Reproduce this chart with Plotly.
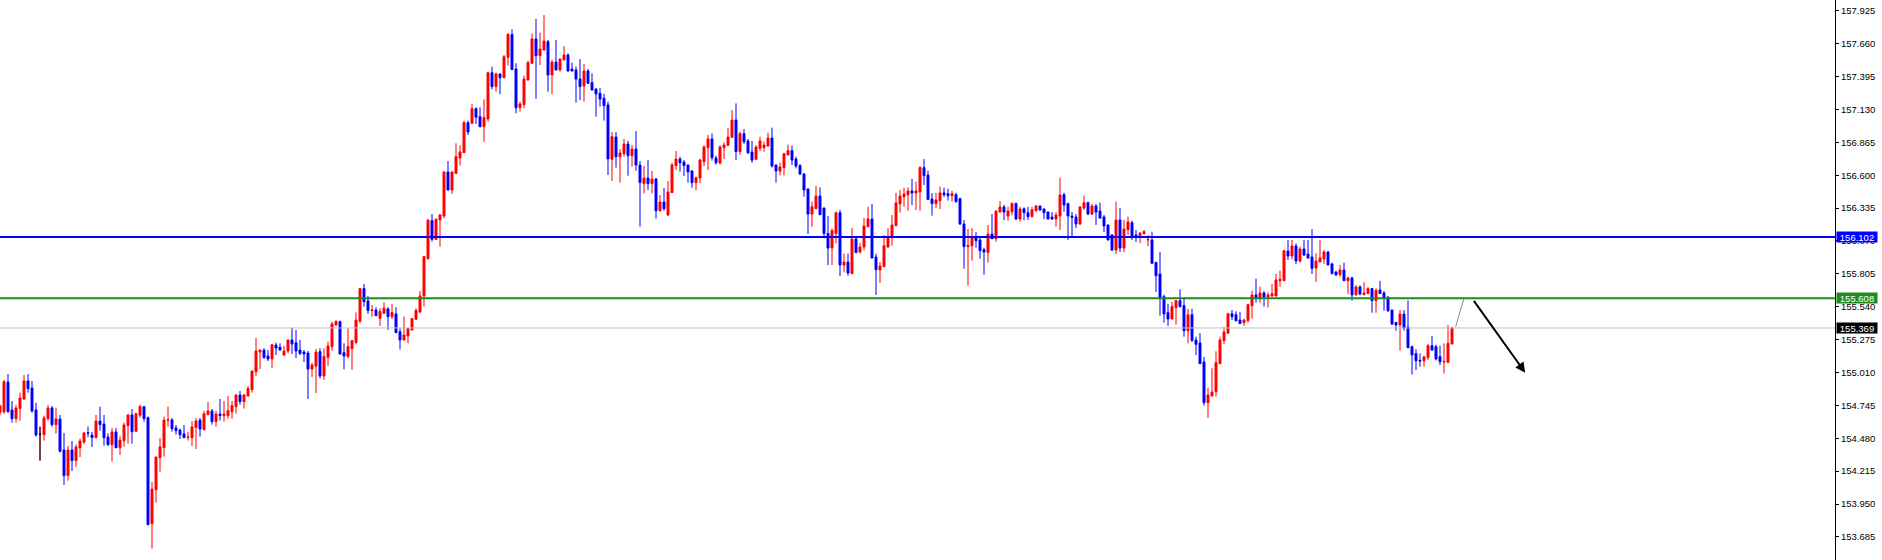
import plotly.graph_objects as go

# ---- candle data (one bar per step) ----
open_ = [
    154.687, 154.694, 154.934, 154.708, 154.638, 154.721, 154.797, 154.942, 154.885, 154.708,
    154.512, 154.509, 154.638, 154.724, 154.590, 154.635, 154.386, 154.179, 154.386, 154.300,
    154.402, 154.450, 154.525, 154.506, 154.485, 154.619, 154.595, 154.490, 154.429, 154.531,
    154.404, 154.461, 154.582, 154.668, 154.536, 154.665, 154.735, 154.646, 153.792, 154.066,
    154.324, 154.404, 154.625, 154.627, 154.563, 154.547, 154.515, 154.486, 154.485, 154.566,
    154.627, 154.549, 154.670, 154.700, 154.614, 154.676, 154.662, 154.662, 154.694, 154.735,
    154.829, 154.775, 154.821, 154.872, 155.017, 155.175, 155.191, 155.143, 155.119, 155.232,
    155.215, 155.151, 155.183, 155.272, 155.250, 155.191, 155.175, 155.167, 155.038, 155.062,
    155.178, 154.982, 155.133, 155.219, 155.393, 155.420, 155.170, 155.138, 155.202, 155.253,
    155.425, 155.686, 155.587, 155.510, 155.514, 155.447, 155.487, 155.522, 155.460, 155.482,
    155.339, 155.272, 155.305, 155.353, 155.439, 155.498, 155.627, 155.930, 156.234, 156.083,
    156.239, 156.271, 156.626, 156.481, 156.615, 156.739, 156.782, 157.024, 157.018, 157.136,
    157.072, 156.991, 157.053, 157.426, 157.314, 157.416, 157.386, 157.550, 157.733, 157.456,
    157.144, 157.169, 157.367, 157.502, 157.698, 157.563, 157.609, 157.676, 157.408, 157.512,
    157.448, 157.529, 157.569, 157.456, 157.448, 157.375, 157.319, 157.440, 157.346, 157.295,
    157.260, 157.220, 157.166, 156.728, 156.908, 156.749, 156.773, 156.851, 156.757, 156.811,
    156.682, 156.532, 156.577, 156.532, 156.569, 156.314, 156.384, 156.279, 156.459, 156.677,
    156.730, 156.706, 156.682, 156.634, 156.540, 156.577, 156.709, 156.822, 156.892, 156.738,
    156.698, 156.822, 156.841, 156.905, 157.045, 156.790, 156.935, 156.876, 156.787, 156.728,
    156.816, 156.822, 156.835, 156.900, 156.682, 156.634, 156.661, 156.763, 156.798, 156.730,
    156.677, 156.610, 156.489, 156.287, 156.330, 156.432, 156.336, 156.131, 156.013, 156.131,
    156.298, 155.876, 155.900, 155.806, 156.086, 155.981, 156.021, 156.185, 156.247, 155.941,
    155.836, 155.863, 156.021, 156.105, 156.193, 156.370, 156.427, 156.443, 156.473, 156.457,
    156.465, 156.661, 156.601, 156.408, 156.371, 156.395, 156.457, 156.451, 156.435, 156.443,
    156.411, 156.207, 156.024, 156.032, 156.105, 156.078, 156.000, 155.976, 156.126, 156.088,
    156.303, 156.344, 156.271, 156.306, 156.373, 156.247, 156.330, 156.298, 156.266, 156.314,
    156.352, 156.328, 156.303, 156.263, 156.247, 156.271, 156.443, 156.371, 156.271, 156.263,
    156.207, 156.336, 156.379, 156.287, 156.352, 156.311, 156.263, 156.199, 156.118, 155.997,
    156.239, 156.013, 156.161, 156.217, 156.118, 156.110, 156.131, 156.078, 156.078, 155.898,
    155.804, 155.621, 155.492, 155.441, 155.533, 155.589, 155.549, 155.347, 155.476, 155.272,
    155.248, 155.095, 154.767, 154.821, 154.856, 155.081, 155.267, 155.328, 155.484, 155.476,
    155.433, 155.412, 155.428, 155.549, 155.635, 155.613, 155.651, 155.619, 155.627, 155.627,
    155.750, 155.750, 155.989, 155.949, 156.030, 155.909, 156.005, 155.965, 155.941, 155.852,
    155.901, 155.925, 155.981, 155.885, 155.820, 155.799, 155.836, 155.750, 155.772, 155.635,
    155.699, 155.637, 155.646, 155.686, 155.589, 155.675, 155.651, 155.616, 155.514, 155.414,
    155.393, 155.481, 155.377, 155.218, 155.162, 155.108, 155.105, 155.130, 155.226, 155.218,
    155.138, 155.095, 155.092, 155.240,
]

high = [
    154.749, 154.950, 154.998, 154.780, 154.749, 154.848, 154.990, 154.998, 154.942, 154.767,
    154.574, 154.662, 154.749, 154.740, 154.727, 154.668, 154.523, 154.418, 154.458, 154.429,
    154.477, 154.531, 154.574, 154.531, 154.668, 154.735, 154.668, 154.520, 154.563, 154.563,
    154.498, 154.606, 154.672, 154.716, 154.686, 154.749, 154.738, 154.654, 154.128, 154.332,
    154.482, 154.654, 154.735, 154.643, 154.587, 154.557, 154.587, 154.531, 154.619, 154.643,
    154.643, 154.700, 154.772, 154.716, 154.700, 154.797, 154.780, 154.821, 154.780, 154.832,
    154.861, 154.837, 154.901, 155.025, 155.288, 155.194, 155.205, 155.191, 155.240, 155.250,
    155.245, 155.224, 155.275, 155.369, 155.353, 155.272, 155.191, 155.183, 155.087, 155.199,
    155.205, 155.205, 155.259, 155.420, 155.433, 155.428, 155.245, 155.366, 155.272, 155.495,
    155.688, 155.724, 155.627, 155.554, 155.536, 155.528, 155.576, 155.536, 155.563, 155.536,
    155.366, 155.460, 155.370, 155.450, 155.528, 155.667, 155.949, 156.242, 156.288, 156.253,
    156.288, 156.629, 156.715, 156.629, 156.857, 156.841, 157.040, 157.040, 157.174, 157.147,
    157.147, 157.212, 157.435, 157.475, 157.426, 157.419, 157.569, 157.743, 157.778, 157.502,
    157.193, 157.402, 157.523, 157.743, 157.859, 157.749, 157.891, 157.690, 157.529, 157.690,
    157.540, 157.641, 157.582, 157.507, 157.475, 157.537, 157.496, 157.456, 157.421, 157.300,
    157.303, 157.255, 157.193, 156.948, 156.948, 156.811, 156.892, 156.878, 156.843, 156.956,
    156.714, 156.674, 156.722, 156.634, 156.577, 156.440, 156.497, 156.553, 156.701, 156.795,
    156.749, 156.722, 156.685, 156.642, 156.588, 156.733, 156.841, 156.924, 156.937, 156.757,
    156.841, 156.865, 156.983, 157.125, 157.179, 156.951, 156.972, 156.892, 156.876, 156.843,
    156.910, 156.870, 156.943, 156.983, 156.685, 156.701, 156.781, 156.846, 156.838, 156.749,
    156.690, 156.615, 156.492, 156.387, 156.513, 156.502, 156.338, 156.271, 156.172, 156.306,
    156.320, 155.968, 155.968, 156.174, 156.094, 156.054, 156.255, 156.346, 156.368, 155.968,
    155.900, 156.118, 156.174, 156.279, 156.457, 156.481, 156.499, 156.502, 156.569, 156.548,
    156.674, 156.730, 156.636, 156.457, 156.457, 156.508, 156.499, 156.491, 156.475, 156.459,
    156.419, 156.239, 156.166, 156.174, 156.142, 156.110, 156.016, 156.199, 156.287, 156.314,
    156.392, 156.360, 156.346, 156.379, 156.379, 156.346, 156.341, 156.346, 156.346, 156.360,
    156.354, 156.330, 156.306, 156.303, 156.301, 156.580, 156.459, 156.379, 156.303, 156.287,
    156.352, 156.435, 156.387, 156.368, 156.368, 156.379, 156.279, 156.201, 156.126, 156.387,
    156.336, 156.239, 156.266, 156.234, 156.158, 156.140, 156.158, 156.118, 156.145, 155.900,
    155.981, 155.637, 155.562, 155.581, 155.594, 155.680, 155.613, 155.524, 155.524, 155.299,
    155.328, 155.135, 154.888, 155.044, 155.181, 155.299, 155.377, 155.487, 155.514, 155.503,
    155.498, 155.444, 155.565, 155.670, 155.766, 155.702, 155.667, 155.656, 155.723, 155.804,
    155.831, 155.995, 156.078, 156.078, 156.051, 156.024, 156.078, 156.078, 156.167, 155.970,
    156.078, 155.997, 155.989, 155.895, 155.828, 155.876, 155.895, 155.782, 155.782, 155.715,
    155.713, 155.740, 155.699, 155.691, 155.688, 155.748, 155.667, 155.627, 155.514, 155.417,
    155.514, 155.514, 155.589, 155.226, 155.199, 155.164, 155.146, 155.240, 155.304, 155.234,
    155.226, 155.245, 155.393, 155.379,
]

low = [
    154.668, 154.676, 154.686, 154.606, 154.606, 154.622, 154.788, 154.848, 154.686, 154.493,
    154.300, 154.461, 154.622, 154.574, 154.517, 154.367, 154.104, 154.138, 154.216, 154.251,
    154.329, 154.434, 154.488, 154.410, 154.480, 154.541, 154.420, 154.418, 154.292, 154.400,
    154.345, 154.412, 154.437, 154.437, 154.528, 154.646, 154.614, 153.780, 153.591, 153.961,
    154.211, 154.332, 154.574, 154.533, 154.509, 154.474, 154.482, 154.461, 154.418, 154.394,
    154.493, 154.545, 154.668, 154.590, 154.574, 154.622, 154.614, 154.638, 154.638, 154.678,
    154.751, 154.719, 154.815, 154.848, 154.982, 155.038, 155.119, 155.103, 155.046, 155.151,
    155.189, 155.143, 155.164, 155.159, 155.127, 155.151, 155.095, 154.797, 154.974, 154.845,
    154.963, 154.950, 155.063, 155.186, 155.390, 155.156, 155.036, 155.125, 155.031, 155.237,
    155.406, 155.541, 155.482, 155.460, 155.465, 155.385, 155.484, 155.353, 155.441, 155.328,
    155.197, 155.270, 155.245, 155.350, 155.436, 155.487, 155.541, 155.917, 156.065, 156.078,
    156.024, 156.253, 156.478, 156.449, 156.612, 156.677, 156.779, 156.924, 157.015, 157.013,
    156.986, 156.870, 157.032, 157.292, 157.273, 157.255, 157.383, 157.483, 157.448, 157.099,
    157.112, 157.139, 157.365, 157.499, 157.214, 157.488, 157.606, 157.273, 157.255, 157.445,
    157.435, 157.526, 157.435, 157.437, 157.185, 157.206, 157.193, 157.338, 157.284, 157.072,
    157.152, 157.040, 156.602, 156.554, 156.661, 156.540, 156.749, 156.596, 156.669, 156.636,
    156.185, 156.454, 156.481, 156.454, 156.250, 156.306, 156.314, 156.274, 156.457, 156.642,
    156.628, 156.593, 156.540, 156.499, 156.481, 156.534, 156.674, 156.642, 156.717, 156.685,
    156.687, 156.730, 156.838, 156.903, 156.722, 156.763, 156.851, 156.771, 156.701, 156.722,
    156.795, 156.790, 156.832, 156.663, 156.540, 156.599, 156.599, 156.760, 156.682, 156.655,
    156.601, 156.427, 156.126, 156.185, 156.327, 156.279, 156.091, 155.876, 155.876, 156.051,
    155.788, 155.817, 155.790, 155.804, 155.973, 155.970, 155.994, 156.183, 155.930, 155.635,
    155.731, 155.860, 156.019, 156.032, 156.190, 156.298, 156.346, 156.314, 156.360, 156.320,
    156.314, 156.521, 156.400, 156.274, 156.333, 156.328, 156.424, 156.395, 156.387, 156.379,
    156.199, 155.847, 155.710, 155.911, 156.016, 155.927, 155.798, 155.895, 156.086, 156.064,
    156.301, 156.239, 156.234, 156.277, 156.239, 156.226, 156.236, 156.239, 156.260, 156.306,
    156.314, 156.247, 156.244, 156.239, 156.185, 156.158, 156.306, 156.078, 156.105, 156.174,
    156.199, 156.320, 156.279, 156.279, 156.199, 156.250, 156.142, 156.075, 155.989, 155.965,
    155.981, 155.981, 156.118, 156.078, 156.062, 156.051, 156.118, 156.029, 155.884, 155.659,
    155.468, 155.412, 155.385, 155.438, 155.396, 155.535, 155.299, 155.245, 155.256, 155.151,
    155.078, 154.743, 154.643, 154.816, 154.816, 155.078, 155.240, 155.320, 155.433, 155.420,
    155.401, 155.385, 155.412, 155.444, 155.573, 155.573, 155.541, 155.533, 155.621, 155.624,
    155.702, 155.747, 155.917, 155.922, 155.882, 155.895, 155.949, 155.927, 155.804, 155.740,
    155.898, 155.885, 155.874, 155.799, 155.791, 155.783, 155.747, 155.643, 155.589, 155.632,
    155.632, 155.632, 155.643, 155.492, 155.492, 155.643, 155.508, 155.498, 155.393, 155.347,
    155.186, 155.347, 155.207, 154.993, 155.030, 155.057, 155.057, 155.111, 155.186, 155.108,
    155.070, 155.001, 155.084, 155.237,
]

close = [
    154.741, 154.936, 154.694, 154.638, 154.724, 154.805, 154.942, 154.880, 154.700, 154.506,
    154.512, 154.643, 154.724, 154.590, 154.635, 154.375, 154.179, 154.386, 154.300, 154.410,
    154.458, 154.523, 154.521, 154.485, 154.619, 154.590, 154.485, 154.429, 154.531, 154.404,
    154.466, 154.587, 154.668, 154.533, 154.678, 154.735, 154.638, 153.784, 154.071, 154.329,
    154.410, 154.627, 154.629, 154.557, 154.541, 154.509, 154.485, 154.490, 154.571, 154.619,
    154.555, 154.678, 154.700, 154.614, 154.676, 154.662, 154.676, 154.702, 154.743, 154.829,
    154.775, 154.829, 154.880, 155.022, 155.183, 155.191, 155.132, 155.119, 155.234, 155.207,
    155.191, 155.183, 155.272, 155.240, 155.183, 155.164, 155.159, 155.038, 155.071, 155.175,
    154.982, 155.138, 155.224, 155.401, 155.420, 155.159, 155.143, 155.219, 155.267, 155.433,
    155.686, 155.581, 155.509, 155.514, 155.468, 155.501, 155.528, 155.460, 155.493, 155.331,
    155.272, 155.312, 155.366, 155.444, 155.509, 155.627, 155.944, 156.239, 156.083, 156.245,
    156.280, 156.626, 156.481, 156.626, 156.750, 156.787, 157.024, 156.948, 157.136, 157.067,
    156.991, 157.064, 157.426, 157.314, 157.416, 157.386, 157.555, 157.735, 157.451, 157.144,
    157.174, 157.375, 157.507, 157.698, 157.563, 157.617, 157.682, 157.408, 157.512, 157.448,
    157.537, 157.569, 157.440, 157.440, 157.375, 157.314, 157.440, 157.340, 157.287, 157.255,
    157.214, 157.161, 156.731, 156.911, 156.749, 156.779, 156.851, 156.757, 156.811, 156.682,
    156.540, 156.577, 156.532, 156.569, 156.314, 156.384, 156.330, 156.465, 156.682, 156.730,
    156.701, 156.677, 156.626, 156.540, 156.580, 156.722, 156.827, 156.892, 156.741, 156.701,
    156.827, 156.843, 156.908, 157.045, 156.790, 156.935, 156.870, 156.781, 156.722, 156.827,
    156.876, 156.843, 156.900, 156.674, 156.634, 156.666, 156.773, 156.798, 156.722, 156.674,
    156.610, 156.481, 156.287, 156.346, 156.432, 156.282, 156.131, 156.013, 156.153, 156.298,
    155.876, 155.900, 155.812, 156.086, 155.976, 156.021, 156.191, 156.247, 155.933, 155.839,
    155.868, 156.032, 156.105, 156.199, 156.376, 156.432, 156.448, 156.473, 156.457, 156.473,
    156.661, 156.596, 156.405, 156.371, 156.400, 156.457, 156.443, 156.435, 156.451, 156.387,
    156.207, 156.024, 156.035, 156.105, 156.072, 155.992, 155.981, 156.126, 156.088, 156.311,
    156.344, 156.303, 156.311, 156.373, 156.247, 156.328, 156.298, 156.266, 156.322, 156.352,
    156.320, 156.298, 156.247, 156.247, 156.279, 156.440, 156.360, 156.271, 156.260, 156.207,
    156.344, 156.379, 156.287, 156.352, 156.303, 156.255, 156.191, 156.078, 155.997, 156.239,
    156.013, 156.166, 156.223, 156.110, 156.105, 156.134, 156.145, 156.083, 155.890, 155.790,
    155.613, 155.482, 155.441, 155.541, 155.589, 155.541, 155.347, 155.476, 155.269, 155.237,
    155.081, 154.767, 154.829, 154.853, 155.089, 155.272, 155.336, 155.484, 155.460, 155.428,
    155.404, 155.433, 155.557, 155.635, 155.613, 155.651, 155.619, 155.635, 155.645, 155.756,
    155.761, 155.992, 155.949, 156.030, 155.909, 156.005, 155.957, 155.933, 155.850, 155.909,
    155.933, 155.981, 155.877, 155.809, 155.796, 155.836, 155.750, 155.772, 155.635, 155.699,
    155.643, 155.651, 155.686, 155.589, 155.672, 155.646, 155.610, 155.508, 155.401, 155.393,
    155.481, 155.369, 155.210, 155.151, 155.105, 155.103, 155.135, 155.226, 155.191, 155.119,
    155.097, 155.100, 155.245, 155.369,
]

assert len(open_) == len(high) == len(low) == len(close)
bar_index = list(range(len(open_)))

tick_values = [153.685, 153.950, 154.215, 154.480, 154.745, 155.010, 155.275, 155.540,
               155.805, 156.070, 156.335, 156.600, 156.865, 157.130, 157.395, 157.660, 157.925]
tick_labels = [f"{v:.3f}" for v in tick_values]

level_resistance = 156.102   # blue line
level_support = 155.608      # green line
level_last = 155.369         # current price (grey)
doji_bars = [10]             # black doji bar

# forecast path (bar index, price)
path_x = [363.9, 366.0]
path_y = [155.379, 155.608]
arrow_start = (368.2, 155.600)
arrow_end = (381.3, 155.009)

FONT = "Liberation Sans"
RED = "#FF0000"
BLUE = "#0000FF"
GREEN = "#1F8A1F"

fig = go.Figure()
fig.add_trace(go.Candlestick(
    x=bar_index, open=open_, high=high, low=low, close=close,
    increasing=dict(line=dict(color=RED, width=1), fillcolor=RED),
    decreasing=dict(line=dict(color=BLUE, width=1), fillcolor=BLUE),
    whiskerwidth=0, hoverinfo="skip", showlegend=False,
))
fig.add_trace(go.Candlestick(
    x=doji_bars,
    open=[open_[i] for i in doji_bars], high=[high[i] for i in doji_bars],
    low=[low[i] for i in doji_bars], close=[close[i] for i in doji_bars],
    increasing=dict(line=dict(color="black", width=1), fillcolor="black"),
    decreasing=dict(line=dict(color="black", width=1), fillcolor="black"),
    whiskerwidth=0, hoverinfo="skip", showlegend=False,
))

# horizontal levels
fig.add_shape(type="line", xref="paper", x0=0, x1=1, yref="y", y0=level_last, y1=level_last,
              line=dict(color="#C0C0C0", width=1), layer="above")
fig.add_shape(type="line", xref="paper", x0=0, x1=1, yref="y", y0=level_resistance, y1=level_resistance,
              line=dict(color=BLUE, width=2), layer="above")
fig.add_shape(type="line", xref="paper", x0=0, x1=1, yref="y", y0=level_support, y1=level_support,
              line=dict(color=GREEN, width=2), layer="above")

# forecast path + arrow
fig.add_trace(go.Scatter(x=path_x, y=path_y, mode="lines",
                         line=dict(color="#8C8C8C", width=1), hoverinfo="skip", showlegend=False))
fig.add_annotation(x=arrow_end[0], y=arrow_end[1], ax=arrow_start[0], ay=arrow_start[1],
                   xref="x", yref="y", axref="x", ayref="y", text="", showarrow=True,
                   arrowhead=2, arrowsize=1, arrowwidth=2, arrowcolor="black")

# price boxes on the axis
for val, col in [(level_resistance, BLUE), (level_support, GREEN), (level_last, "#000000")]:
    fig.add_annotation(xref="paper", x=1, xanchor="left", xshift=1, yref="y", y=val, yanchor="middle",
                       text=f"{val:.3f}", showarrow=False, bgcolor=col, borderpad=0,
                       width=40, height=10, align="center",
                       font=dict(family=FONT, size=9.5, color="white"))

fig.update_layout(
    width=1882, height=560,
    margin=dict(l=0, r=47, t=0, b=0),
    paper_bgcolor="white", plot_bgcolor="white",
    showlegend=False,
    xaxis=dict(range=[0, 458.75], visible=False, rangeslider=dict(visible=False)),
    yaxis=dict(side="right", range=[153.499, 158.012], tickvals=tick_values, ticktext=tick_labels,
               ticks="outside", ticklen=3, tickcolor="black", showline=True, linecolor="black",
               linewidth=1, showgrid=False, zeroline=False,
               tickfont=dict(family=FONT, size=9.5, color="black")),
)

fig.write_html("out.html", config={"displayModeBar": False},
               post_script="document.body.style.margin='0px';")
